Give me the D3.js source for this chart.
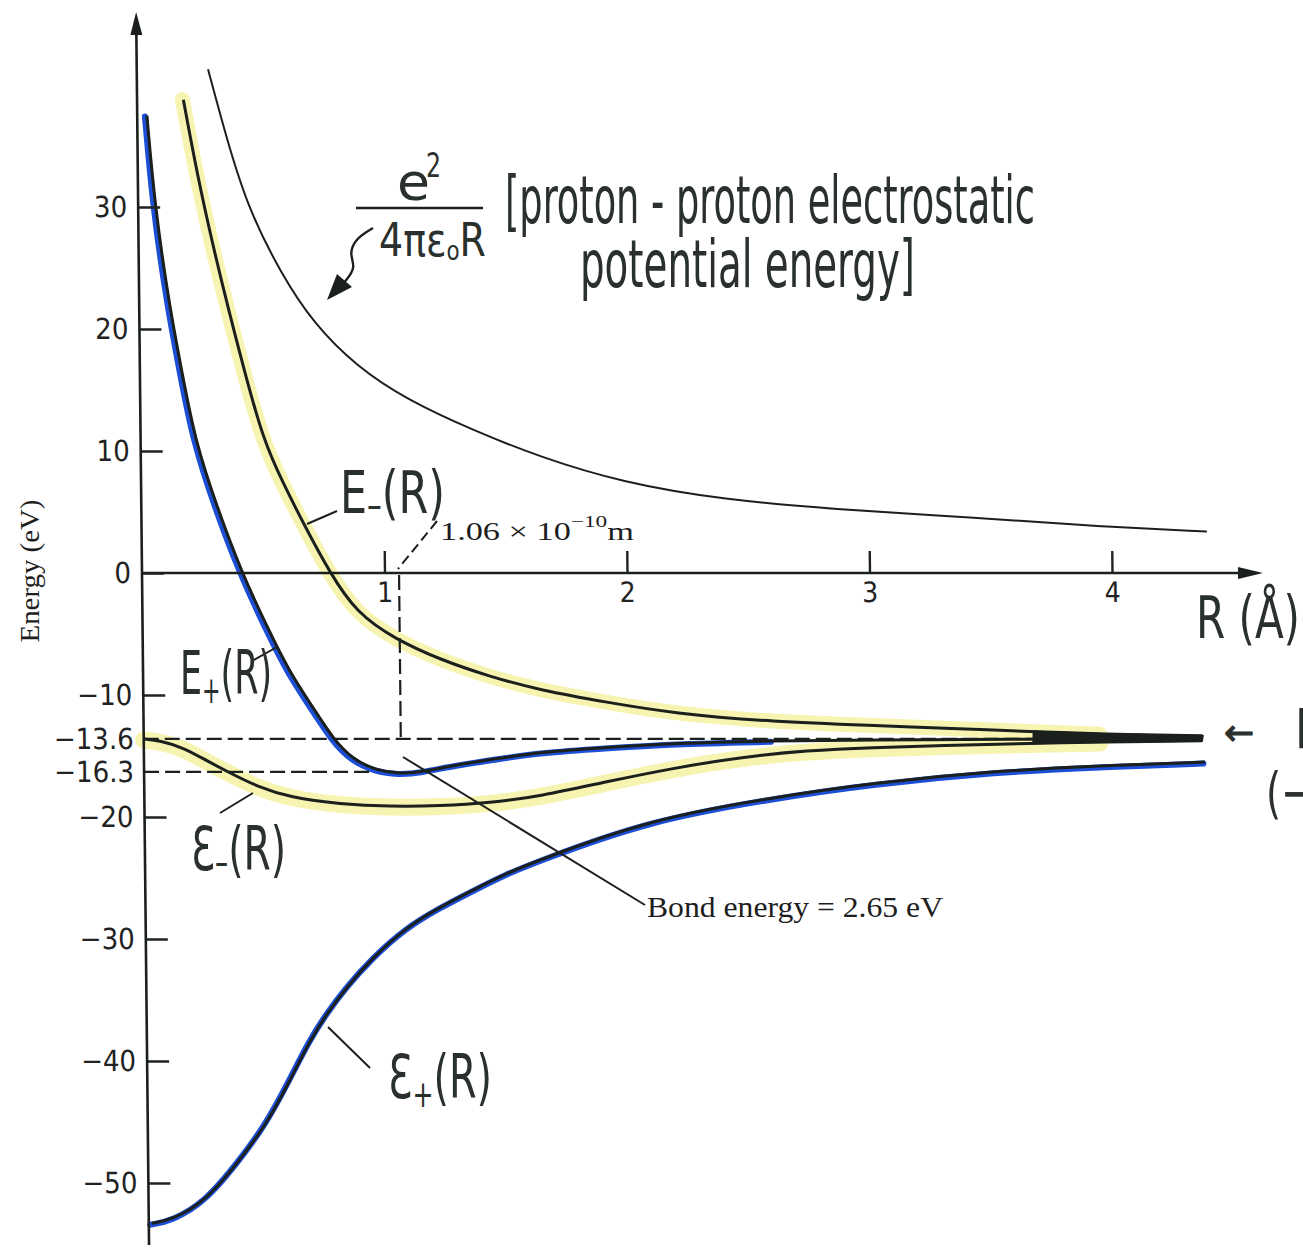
<!DOCTYPE html>
<html lang="en">
<head>
<meta charset="UTF-8">
<title>Energy curves of the hydrogen molecular ion</title>
<script src="https://d3js.org/d3.v7.min.js"></script>
<style>
    body { margin: 0; background: #fff; }
    .axis text { font-family: "Liberation Sans Narrow", "DejaVu Sans Condensed", sans-serif; fill: #222; }
    .axis line { stroke: #1e2420; stroke-width: 2.4px; }
    .hand { font-family: "Liberation Sans Narrow", "DejaVu Sans Condensed", sans-serif; fill: #2a302c; }
    .print { font-family: "Liberation Serif", serif; fill: #1e1e1e; }
</style>
</head>
<body>
<svg id="svg" width="1303" height="1250"></svg>
<script>
    // ---- values (R in angstrom, energy in eV) ----
    const yTicks = [30, 20, 10, 0, -10, -20, -30, -40, -50];
    const yMarks = [-13.6, -16.3];
    const xTicks = [1, 2, 3, 4];
    const bondR = 1.06;          // 1.06 x 10^-10 m
    const hydrogenE = -13.6;
    const minE = -16.3;

    // e^2 / 4 pi eps0 R
    const coulomb = [[0.294, 41.3], [0.369, 35.5], [0.455, 29.8], [0.585, 24.6], [0.716, 20.5], [0.895, 16.9],
        [1.100, 14.2], [1.371, 11.7], [1.646, 9.5], [1.987, 7.4], [2.399, 6.0], [2.881, 5.2], [3.293, 4.7],
        [3.540, 4.4], [3.953, 3.8], [4.393, 3.4]];
    // E-(R)
    const eMinus = [[0.191, 38.8], [0.256, 31.4], [0.348, 23.2], [0.433, 16.4], [0.506, 10.9], [0.586, 7.35],
        [0.667, 4.1], [0.775, 0], [0.884, -3.3], [1.040, -5.4], [1.225, -7.1], [1.431, -8.5], [1.636, -9.6],
        [1.912, -10.6], [2.184, -11.5], [2.597, -12.2], [3.010, -12.5], [3.287, -12.7], [3.670, -13.0],
        [3.946, -13.2], [4.367, -13.35]];
    // E+(R)
    const ePlus = [[0.040, 37.5], [0.069, 30.0], [0.125, 21.8], [0.174, 16.4], [0.224, 10.9], [0.312, 5.4],
        [0.412, 0], [0.513, -4.4], [0.606, -8.2], [0.699, -11.0], [0.781, -13.6], [0.862, -15.3],
        [0.961, -16.2], [1.056, -16.45], [1.150, -16.3], [1.291, -15.7], [1.497, -15.1], [1.633, -14.7],
        [1.909, -14.3], [2.181, -13.95], [2.594, -13.75], [3.008, -13.68], [3.532, -13.63], [4.363, -13.6]];
    // script E-(R)
    const calMinus = [[0.0, -13.6], [0.067, -13.75], [0.162, -14.3], [0.260, -15.4], [0.355, -16.4],
        [0.465, -17.5], [0.601, -18.4], [0.807, -18.95], [1.012, -19.15], [1.219, -19.1], [1.425, -18.85],
        [1.632, -18.3], [1.908, -17.1], [2.181, -16.0], [2.458, -15.1], [2.735, -14.55], [3.007, -14.3],
        [3.283, -14.15], [3.668, -13.95], [3.944, -13.85], [4.364, -13.75]];
    // script E+(R)
    const calPlus = [[0.012, -53.3], [0.100, -53.0], [0.241, -51.4], [0.379, -48.1], [0.492, -45.1],
        [0.588, -41.6], [0.673, -38.3], [0.744, -36.1], [0.828, -33.9], [0.936, -31.5], [1.078, -29.0],
        [1.214, -27.4], [1.351, -26.0], [1.492, -24.6], [1.629, -23.5], [2.084, -20.2], [2.592, -18.4],
        [3.005, -17.2], [3.529, -16.2], [3.942, -15.8], [4.375, -15.5]];

    // ---- scales ----
    const x = d3.scaleLinear().domain([0, 4]).range([142, 1112]);
    const y = d3.scaleLinear().domain([0, -50]).range([573, 1183]);
    const ink = "#1b201d";

    const svg = d3.select("#svg");
    // the scanned figure leans a little, so the plot is skewed about the R axis
    const plot = svg.append("g").attr("transform", `translate(0,${y(0)}) skewX(0.6) translate(0,${-y(0)})`);
    const notes = svg.append("g");

    const line = d3.line()
        .x(d => x(d[0]))
        .y(d => y(d[1]))
        .curve(d3.curveBasis);

    // highlighter marks under the printed curves
    const marker = (data, color, width, dx, dy) => plot.append("path")
        .datum(data)
        .attr("d", line)
        .attr("transform", `translate(${dx},${dy})`)
        .attr("fill", "none")
        .attr("stroke", color)
        .attr("stroke-width", width)
        .attr("stroke-linecap", "round")
        .attr("stroke-linejoin", "round");

    marker(eMinus.filter(d => d[0] <= 3.95), "#f6f2a8", 15, -1, 0).attr("opacity", 0.9);
    marker(calMinus.filter(d => d[0] <= 3.95), "#f6f2a8", 17, 0, 1).attr("opacity", 0.9);
    marker(ePlus.filter(d => d[0] <= 2.6), "#1d4fd6", 6, -2, 1);
    marker(calPlus, "#1d4fd6", 6, -1.5, 1.5);

    // axes
    const fmt = d => Number.isInteger(d) ? d3.format("d")(d) : d3.format(".1f")(d);

    plot.append("g")
        .attr("class", "axis")
        .attr("transform", `translate(${x(0)},0)`)
        .call(d3.axisLeft(y).tickValues(yTicks).tickSizeInner(-22).tickSizeOuter(0).tickPadding(11).tickFormat(fmt))
        .call(g => g.select(".domain").remove())
        .attr("font-size", 29);

    plot.append("g")
        .attr("class", "axis")
        .attr("transform", `translate(${x(0)},0)`)
        .call(d3.axisLeft(y).tickValues(yMarks).tickSize(0).tickPadding(10).tickFormat(fmt))
        .call(g => g.select(".domain").remove())
        .attr("font-size", 29);

    plot.append("g")
        .attr("class", "axis")
        .attr("transform", `translate(0,${y(0)})`)
        .call(d3.axisBottom(x).tickValues(xTicks).tickSizeInner(-22).tickSizeOuter(0).tickPadding(9).tickFormat(d3.format("d")))
        .call(g => g.select(".domain").remove())
        .attr("font-size", 28);

    // axis lines with arrow heads
    plot.append("line")
        .attr("x1", x(0)).attr("x2", x(0)).attr("y1", 28).attr("y2", 1245)
        .attr("stroke", ink).attr("stroke-width", 2.6);
    plot.append("path")
        .attr("d", `M${x(0)},12 L${x(0) - 6},35 L${x(0) + 6},35 Z`)
        .attr("fill", ink);
    plot.append("line")
        .attr("x1", x(0)).attr("x2", 1245).attr("y1", y(0)).attr("y2", y(0))
        .attr("stroke", ink).attr("stroke-width", 2.4);
    plot.append("path")
        .attr("d", `M1263,${y(0)} L1238,${y(0) - 6} L1238,${y(0) + 6} Z`)
        .attr("fill", ink);

    // dashed guides
    const dashed = (x1, y1, x2, y2) => plot.append("line")
        .attr("x1", x1).attr("y1", y1).attr("x2", x2).attr("y2", y2)
        .attr("stroke", ink).attr("stroke-width", 2.2).attr("stroke-dasharray", "15,6");

    dashed(x(0), y(hydrogenE), x(4.36), y(hydrogenE));
    dashed(x(0), y(minE), x(0.95), y(minE));
    dashed(x(bondR), y(0) + 2, x(bondR), y(hydrogenE));

    // printed curves
    plot.append("path").datum(coulomb).attr("d", line)
        .attr("fill", "none").attr("stroke", ink).attr("stroke-width", 2);
    [eMinus, ePlus, calMinus, calPlus].forEach(data => {
        plot.append("path").datum(data).attr("d", line)
            .attr("fill", "none").attr("stroke", ink).attr("stroke-width", 3);
    });

    // where the curves run together near -13.6 eV
    const band = eMinus.filter(d => d[0] >= 3.6).concat(calMinus.filter(d => d[0] >= 3.6).reverse());
    plot.append("path")
        .attr("d", d3.line().x(d => x(d[0])).y(d => y(d[1]))(band) + "Z")
        .attr("fill", ink).attr("stroke", ink).attr("stroke-width", 2);

    // ---- annotations ----
    const leader = (x1, y1, x2, y2, dash) => notes.append("line")
        .attr("x1", x1).attr("y1", y1).attr("x2", x2).attr("y2", y2)
        .attr("stroke", ink).attr("stroke-width", 2)
        .attr("stroke-dasharray", dash || null);

    leader(437, 521, 398, 569, "10,5");
    leader(403, 757, 645, 905);
    leader(307, 524, 337, 511);
    leader(252, 661, 277, 647);
    leader(220, 813, 253, 793);
    leader(328, 1027, 370, 1068);
    leader(356, 208, 483, 208).attr("stroke-width", 2.6);

    // squiggly arrow from the formula to the curve
    notes.append("path")
        .datum([[373, 228], [356, 238], [349, 254], [356, 267], [346, 281], [336, 290]])
        .attr("d", d3.line().curve(d3.curveBasis))
        .attr("fill", "none").attr("stroke", ink).attr("stroke-width", 2.4);
    notes.append("path")
        .attr("d", "M327,300 L337,274 L352,287 Z")
        .attr("fill", ink);

    // hand lettering: tall and narrow, so the glyphs are stretched upward
    function hand(x0, yb, size, width, parts, k = 1.3) {
        const t = notes.append("text").attr("class", "hand")
            .attr("transform", `translate(${x0},${yb}) scale(1,${k})`)
            .attr("font-size", size / k);
        if (width) t.attr("textLength", width).attr("lengthAdjust", "spacingAndGlyphs");
        parts.forEach(([s, dy, fs]) => t.append("tspan")
            .attr("dy", (dy || 0) / k)
            .attr("font-size", fs ? fs / k : null)
            .text(s));
        return t;
    }

    hand(505, 223, 66, 530, [["[proton - proton electrostatic"]]);
    hand(580, 287, 66, 335, [["potential energy]"]]);
    hand(397, 200, 52, 33, [["e"]]);
    hand(426, 177, 34, 15, [["2"]]);
    hand(379, 256, 46, 107, [["4πε"], ["o", 4, 26], ["R", -4, 46]]);
    hand(340, 513, 58, 105, [["E"], ["–", 6, 40], ["(R)", -6, 58]]);
    hand(180, 694, 60, 92, [["E"], ["+", 9, 38], ["(R)", -9, 60]]);
    hand(191, 870, 60, 95, [["Ɛ"], ["–", 6, 40], ["(R)", -6, 60]]);
    hand(388, 1098, 60, 104, [["Ɛ"], ["+", 9, 38], ["(R)", -9, 60]]);
    hand(1196, 638, 58, 104, [["R (Å)"]]);
    hand(1266, 812, 56, null, [["(−"]]);
    hand(1295.5, 748, 56, null, [["H"]]);
    notes.append("text")
        .attr("x", 1224).attr("y", 745)
        .attr("font-family", "DejaVu Sans").attr("font-size", 36).attr("fill", "#2a302c")
        .attr("stroke", "#2a302c").attr("stroke-width", 1)
        .text("←");

    notes.append("text").attr("class", "print")
        .attr("transform", "translate(39,571) rotate(-90)")
        .attr("text-anchor", "middle")
        .attr("font-size", 27)
        .attr("textLength", 143).attr("lengthAdjust", "spacingAndGlyphs")
        .text("Energy (eV)");

    const sci = notes.append("text").attr("class", "print")
        .attr("x", 440).attr("y", 540).attr("font-size", 25)
        .attr("textLength", 194).attr("lengthAdjust", "spacingAndGlyphs");
    sci.append("tspan").text("1.06 × 10");
    sci.append("tspan").attr("dy", -13).attr("font-size", 17).text("−10");
    sci.append("tspan").attr("dy", 13).attr("font-size", 25).text("m");

    notes.append("text").attr("class", "print")
        .attr("x", 647).attr("y", 917).attr("font-size", 29)
        .attr("textLength", 296).attr("lengthAdjust", "spacingAndGlyphs")
        .text("Bond energy = 2.65 eV");
</script>
</body>
</html>
